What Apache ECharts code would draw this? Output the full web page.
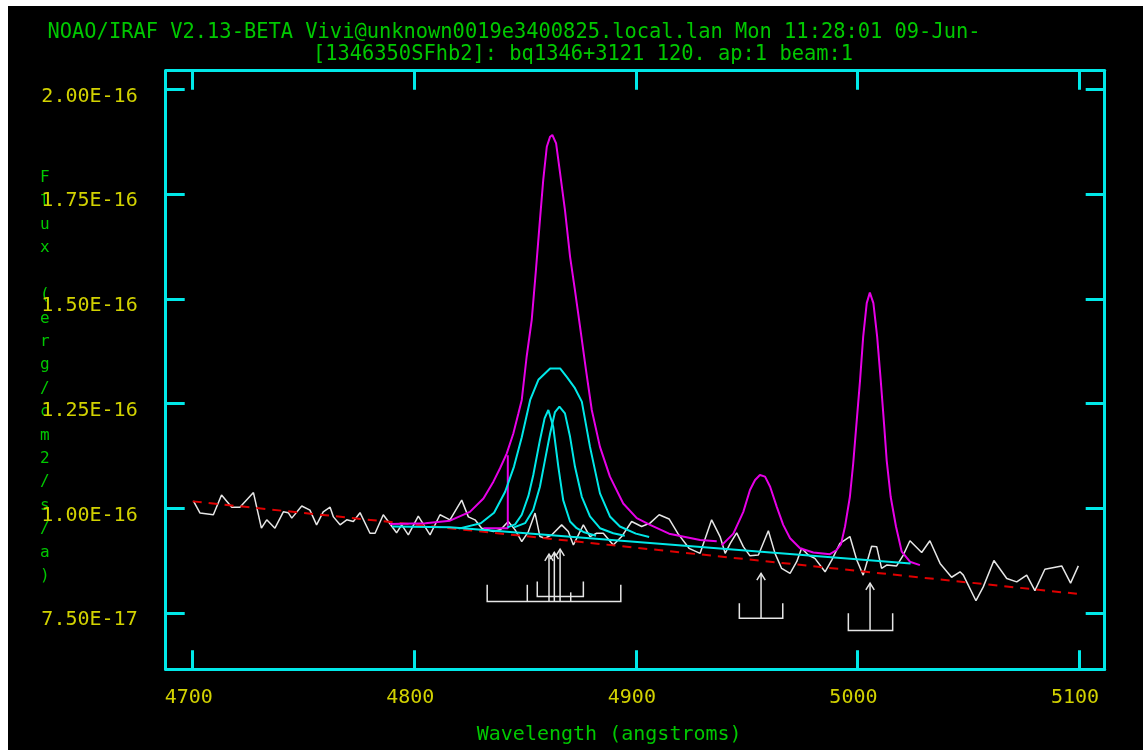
<!DOCTYPE html>
<html><head><meta charset="utf-8">
<script src="https://cdn.jsdelivr.net/npm/echarts@6/dist/echarts.min.js"></script>
<style>
html,body{margin:0;padding:0;background:#fff;}
#chart{position:absolute;left:8px;top:6px;width:1135px;height:744px;background:#000;}
</style>
</head><body><div id="chart"></div>
<script>
// ---- text ----
const titleLine1 = 'NOAO/IRAF V2.13-BETA Vivi@unknown0019e3400825.local.lan Mon 11:28:01 09-Jun-';
const titleLine2 = '[1346350SFhb2]: bq1346+3121 120. ap:1 beam:1';
const xAxisName = 'Wavelength (angstroms)';
const yAxisName = 'Flux (erg/cm2/s/a)';

// ---- ticks (flux in units of 1e-16) ----
const xTicks = [4700, 4800, 4900, 5000, 5100];
const yTicks = [0.75, 1.00, 1.25, 1.50, 1.75, 2.00];
const yTickLabels = ['7.50E-17', '1.00E-16', '1.25E-16', '1.50E-16', '1.75E-16', '2.00E-16'];

// ---- observed spectrum (white) ----
const specWave = [4700.3,4703.3,4709.3,4713.0,4717.6,4721.3,4727.4,4731.0,4733.4,4737.1,4740.9,4743.1,4744.7,4749.2,4752.9,4755.9,4758.9,4762.0,4763.5,4766.5,4769.5,4772.5,4775.5,4780.0,4782.3,4786.0,4792.0,4794.3,4797.3,4801.8,4807.1,4811.6,4814.6,4816.1,4821.4,4824.4,4827.4,4830.4,4835.7,4839.0,4842.4,4845.5,4848.5,4851.5,4854.5,4856.7,4859.0,4862.0,4866.5,4869.5,4871.8,4876.3,4879.3,4882.3,4885.3,4889.8,4893.6,4898.1,4902.6,4906.4,4910.5,4915.0,4919.0,4924.0,4929.0,4934.2,4938.0,4940.3,4942.6,4945.5,4948.5,4951.5,4955.3,4959.8,4962.8,4965.8,4969.6,4972.6,4974.8,4977.8,4980.8,4985.4,4988.4,4992.1,4996.6,4999.7,5002.6,5006.4,5008.7,5010.9,5013.2,5017.7,5020.7,5023.7,5029.0,5032.7,5037.3,5042.5,5046.3,5047.8,5053.5,5056.8,5061.6,5067.4,5071.9,5076.4,5080.1,5084.6,5092.2,5096.2,5099.7];
const specFlux = [1.018,0.989,0.985,1.032,1.003,1.003,1.038,0.953,0.973,0.953,0.992,0.990,0.977,1.006,0.996,0.961,0.992,1.003,0.980,0.961,0.973,0.969,0.990,0.941,0.941,0.985,0.942,0.961,0.937,0.982,0.937,0.985,0.977,0.973,1.020,0.980,0.973,0.953,0.945,0.950,0.969,0.949,0.921,0.945,0.989,0.933,0.929,0.937,0.961,0.945,0.913,0.961,0.933,0.941,0.941,0.913,0.933,0.969,0.957,0.965,0.985,0.975,0.940,0.905,0.893,0.973,0.933,0.893,0.917,0.942,0.909,0.887,0.889,0.947,0.893,0.857,0.845,0.873,0.905,0.889,0.881,0.849,0.877,0.917,0.933,0.877,0.841,0.910,0.909,0.857,0.865,0.863,0.889,0.923,0.895,0.923,0.869,0.836,0.849,0.841,0.780,0.813,0.876,0.833,0.825,0.841,0.804,0.855,0.863,0.822,0.863];

// ---- continuum (red dashed) ----
const contWave = [4700, 5100];
const contFlux = [1.017, 0.796];

// ---- fitted continuum (cyan) ----
const fitContWave = [4790, 4816, 5024];
const fitContFlux = [0.957, 0.955, 0.869];

// ---- H-beta total fit (magenta) ----
const hbFitWave = [4789.0,4805.0,4816.1,4825.1,4831.2,4835.7,4838.7,4841.7,4844.7,4847.0,4848.5,4850.7,4853.0,4854.9,4856.7,4858.2,4859.8,4861.3,4862.3,4864.0,4865.8,4868.0,4870.3,4872.5,4874.8,4877.5,4880.1,4883.8,4888.3,4894.3,4900.4,4906.4,4915.0,4929.0,4936.5];
const hbFitFlux = [0.963,0.965,0.971,0.992,1.024,1.064,1.096,1.131,1.179,1.227,1.259,1.362,1.450,1.569,1.688,1.784,1.863,1.887,1.891,1.871,1.800,1.712,1.601,1.521,1.434,1.330,1.235,1.147,1.076,1.012,0.977,0.961,0.940,0.925,0.922];
const hbEdgeWave = [4831.2, 4842.2, 4842.2];
const hbEdgeFlux = [0.953, 0.953, 1.127];

// ---- [OIII] fit (magenta) ----
const o3FitWave = [4938.7,4944.0,4948.5,4951.5,4953.8,4956.0,4958.3,4960.6,4963.6,4966.5,4969.6,4974.1,4980.1,4987.6,4990.6,4992.6,4994.4,4996.6,4998.1,4999.7,5001.2,5002.6,5004.2,5005.6,5007.2,5008.9,5010.5,5012.0,5013.2,5015.0,5017.4,5020.0,5023.7,5028.2];
const o3FitFlux = [0.912,0.940,0.992,1.044,1.068,1.080,1.076,1.052,1.004,0.961,0.929,0.905,0.895,0.891,0.901,0.915,0.957,1.028,1.108,1.211,1.307,1.410,1.490,1.515,1.490,1.410,1.307,1.203,1.115,1.028,0.957,0.897,0.873,0.865];

// ---- H-beta components (cyan) ----
const broadWave = [4820.0,4830.0,4836.0,4841.0,4845.0,4848.5,4852.3,4856.0,4861.3,4865.8,4868.8,4872.5,4875.6,4879.3,4883.8,4888.3,4892.8,4900.0,4906.0];
const broadFlux = [0.952,0.965,0.990,1.040,1.100,1.170,1.259,1.307,1.334,1.334,1.314,1.287,1.255,1.147,1.036,0.981,0.957,0.940,0.932];
const narrow1Wave = [4842.0,4845.5,4848.5,4851.5,4853.7,4856.7,4858.8,4860.5,4862.7,4865.0,4867.2,4870.3,4873.3,4876.3,4882.0];
const narrow1Flux = [0.955,0.962,0.985,1.030,1.080,1.163,1.215,1.235,1.195,1.100,1.020,0.969,0.953,0.944,0.935];
const narrow2Wave = [4845.0,4850.0,4853.7,4856.7,4859.0,4861.3,4863.5,4865.5,4868.0,4870.3,4872.5,4875.6,4879.3,4883.8,4889.8,4895.0];
const narrow2Flux = [0.955,0.965,0.997,1.052,1.116,1.179,1.230,1.243,1.227,1.171,1.100,1.028,0.981,0.953,0.941,0.935];

// ---- line markers (white): bracket extents, arrow positions ----
const bracketA = {x1: 4832.9, x2: 4893.2, base: 0.778, top: 0.818, mids: [4851.0], midsShort: [4870.6], shortTop: 0.800};
const bracketB = {x1: 4855.5, x2: 4876.3, base: 0.790, top: 0.826};
const bracketC = {x1: 4946.7, x2: 4966.3, base: 0.738, top: 0.774};
const bracketD = {x1: 4995.9, x2: 5015.9, base: 0.709, top: 0.750};
const arrowX    = [4860.8, 4863.2, 4865.8, 4956.5, 5005.7];
const arrowBase = [0.778, 0.778, 0.778, 0.738, 0.709];
const arrowTip  = [0.891, 0.895, 0.903, 0.845, 0.822];
const headDx = 1.9, headDy = 0.016;

function pairs(xs, ys) { return xs.map((x, i) => [x, ys[i]]); }
function bracket(b) {
  const segs = [{coords: [[b.x1, b.top], [b.x1, b.base], [b.x2, b.base], [b.x2, b.top]]}];
  (b.mids || []).forEach(m => segs.push({coords: [[m, b.base], [m, b.top]]}));
  (b.midsShort || []).forEach(m => segs.push({coords: [[m, b.base], [m, b.shortTop]]}));
  return segs;
}
const markerSegs = [].concat(bracket(bracketA), bracket(bracketB), bracket(bracketC), bracket(bracketD));
arrowX.forEach((x, i) => {
  markerSegs.push({coords: [[x, arrowBase[i]], [x, arrowTip[i]]]});
  markerSegs.push({coords: [[x - headDx, arrowTip[i] - headDy], [x, arrowTip[i]], [x + headDx, arrowTip[i] - headDy]]});
});

const CYAN = '#00e8e8', YELLOW = '#d2d200', GREEN = '#00c800', MAG = '#e600e6', WHITE = '#e6e6e6', RED = '#e00000';
const MONO = '"DejaVu Sans Mono", "Liberation Mono", monospace';
const xMin = 4687.8, xMax = 5111.6, yMin = 0.6164, yMax = 2.0444;

function yLabel(v) {
  for (let i = 0; i < yTicks.length; i++) if (Math.abs(yTicks[i] - v) < 1e-6) return yTickLabels[i];
  return '';
}

const axisLineStyle = {show: true, onZero: false, lineStyle: {color: CYAN, width: 3}};
const tickStyle = (vals) => ({show: true, inside: true, length: 19, customValues: vals, lineStyle: {color: CYAN, width: 3}});

const chart = echarts.init(document.getElementById('chart'));
chart.setOption({
  animation: false,
  backgroundColor: '#000',
  title: [
    {text: titleLine1, left: 506, top: 27, textAlign: 'center', textVerticalAlign: 'middle', padding: 0,
     textStyle: {color: GREEN, fontFamily: MONO, fontSize: 20.4, fontWeight: 'normal'}},
    {text: titleLine2, left: 575, top: 49, textAlign: 'center', textVerticalAlign: 'middle', padding: 0,
     textStyle: {color: GREEN, fontFamily: MONO, fontSize: 20.4, fontWeight: 'normal'}}
  ],
  grid: {left: 157.7, top: 64.7, right: 38.3, bottom: 80.7, containLabel: false},
  xAxis: [
    {type: 'value', position: 'bottom', min: xMin, max: xMax,
     axisLine: axisLineStyle, axisTick: tickStyle(xTicks), splitLine: {show: false},
     axisLabel: {customValues: xTicks, formatter: (v) => String(v), color: YELLOW, fontFamily: MONO, fontSize: 20, margin: 18, padding: [0, 8, 0, 0]},
     name: xAxisName, nameLocation: 'middle', nameGap: 55, nameMoveOverlap: false,
     nameTextStyle: {color: GREEN, fontFamily: MONO, fontSize: 20, padding: [0, 52, 0, 0]}},
    {type: 'value', position: 'top', min: xMin, max: xMax,
     axisLine: axisLineStyle, axisTick: tickStyle(xTicks), splitLine: {show: false}, axisLabel: {show: false}}
  ],
  yAxis: [
    {type: 'value', position: 'left', min: yMin, max: yMax,
     axisLine: axisLineStyle, axisTick: tickStyle(yTicks), splitLine: {show: false},
     axisLabel: {customValues: yTicks, formatter: yLabel, color: YELLOW, fontFamily: MONO, fontSize: 20, margin: 28, verticalAlign: 'top', lineHeight: 14},
     name: '{gap| }\n' + yAxisName.split('').join('\n'), nameLocation: 'middle', nameRotate: 0, nameGap: 121, nameMoveOverlap: false,
     nameTextStyle: {color: GREEN, fontFamily: MONO, fontSize: 16, lineHeight: 23.4, align: 'center', verticalAlign: 'middle',
       rich: {gap: {lineHeight: 14, fontSize: 4}}}},
    {type: 'value', position: 'right', min: yMin, max: yMax,
     axisLine: axisLineStyle, axisTick: tickStyle(yTicks), splitLine: {show: false}, axisLabel: {show: false}}
  ],
  series: [
    {type: 'line', name: 'spectrum', data: pairs(specWave, specFlux), showSymbol: false, lineStyle: {color: WHITE, width: 1.5}, z: 2},
    {type: 'line', name: 'continuum', data: pairs(contWave, contFlux), showSymbol: false, lineStyle: {color: RED, width: 2, type: [9, 7]}, z: 3},
    {type: 'line', name: 'hb fit', data: pairs(hbFitWave, hbFitFlux), showSymbol: false, lineStyle: {color: MAG, width: 2}, z: 4},
    {type: 'line', name: 'hb edge', data: pairs(hbEdgeWave, hbEdgeFlux), showSymbol: false, lineStyle: {color: MAG, width: 2}, z: 4},
    {type: 'line', name: 'o3 fit', data: pairs(o3FitWave, o3FitFlux), showSymbol: false, lineStyle: {color: MAG, width: 2}, z: 4},
    {type: 'line', name: 'fit continuum', data: pairs(fitContWave, fitContFlux), showSymbol: false, lineStyle: {color: CYAN, width: 2}, z: 5},
    {type: 'line', name: 'broad', data: pairs(broadWave, broadFlux), showSymbol: false, lineStyle: {color: CYAN, width: 2}, z: 5},
    {type: 'line', name: 'narrow1', data: pairs(narrow1Wave, narrow1Flux), showSymbol: false, lineStyle: {color: CYAN, width: 2}, z: 5},
    {type: 'line', name: 'narrow2', data: pairs(narrow2Wave, narrow2Flux), showSymbol: false, lineStyle: {color: CYAN, width: 2}, z: 5},
    {type: 'lines', name: 'markers', coordinateSystem: 'cartesian2d', polyline: true, data: markerSegs,
     lineStyle: {color: WHITE, width: 1.5, opacity: 1}, z: 6}
  ]
});
</script></body></html>
